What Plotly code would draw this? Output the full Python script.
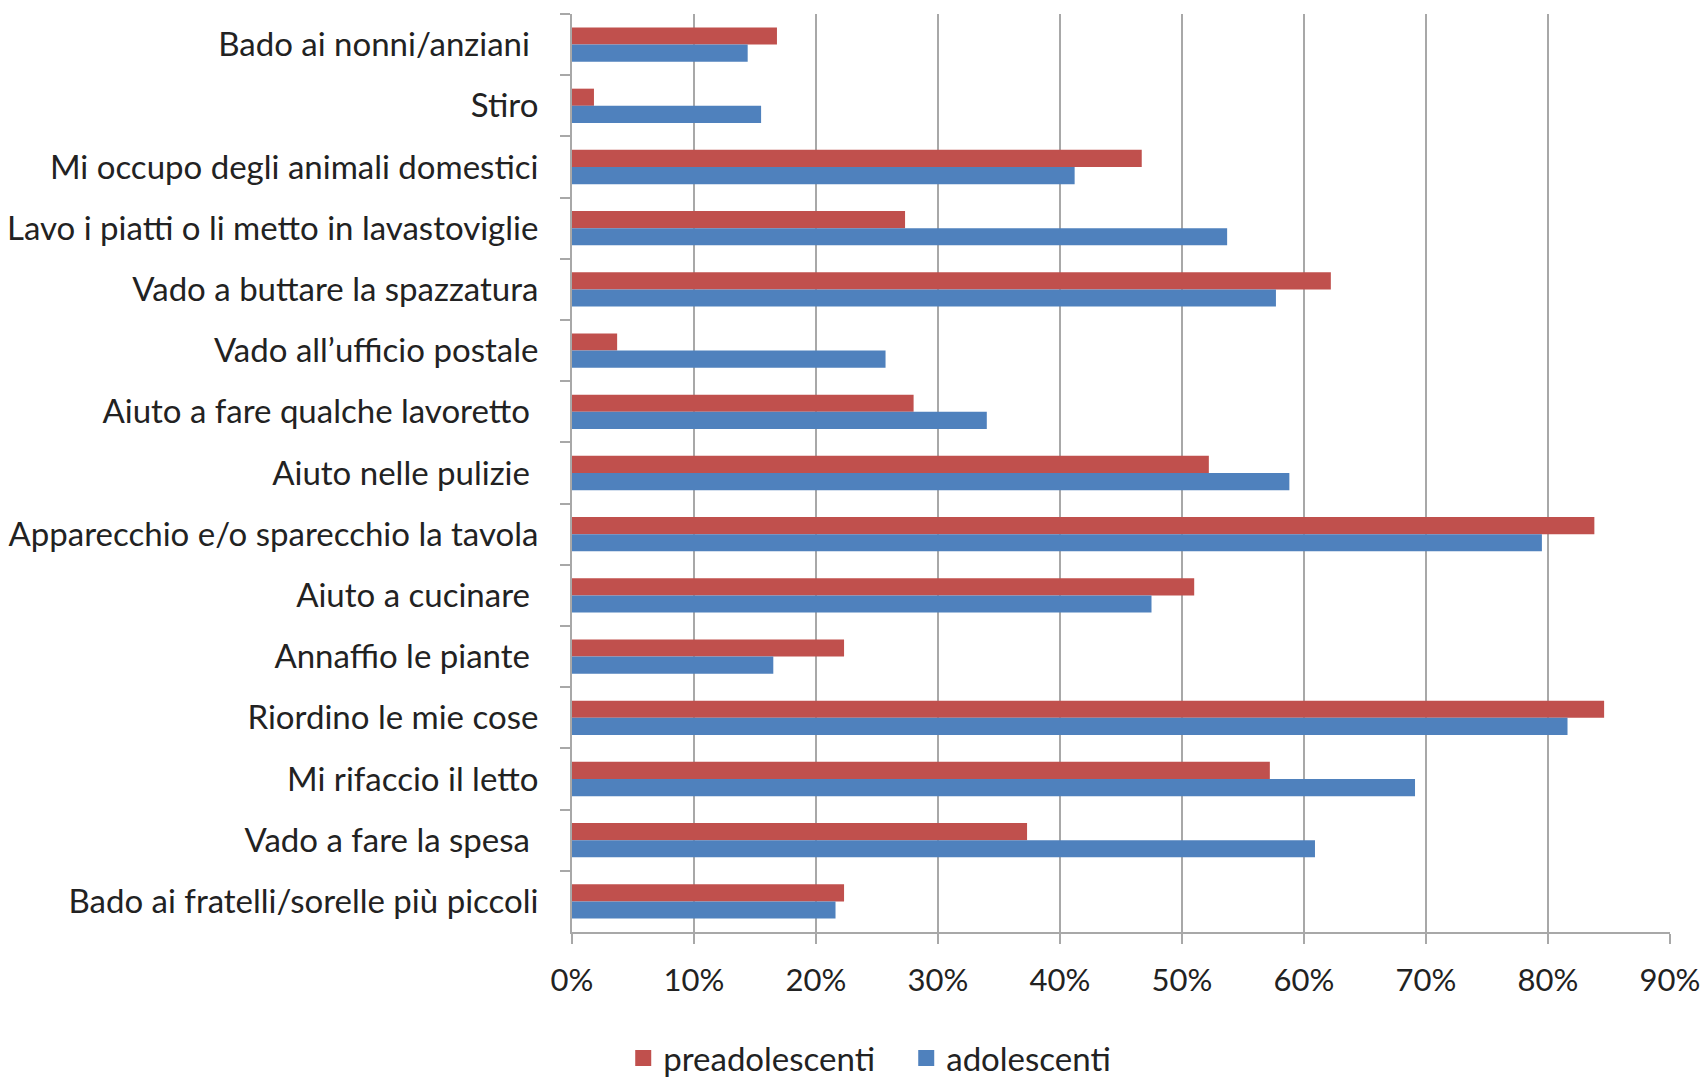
import plotly.graph_objects as go

categories = [
    "Bado ai nonni/anziani\u00a0",
    "Stiro",
    "Mi occupo degli animali domestici",
    "Lavo i piatti o li metto in lavastoviglie",
    "Vado a buttare la spazzatura",
    "Vado all\u2019ufficio postale",
    "Aiuto a fare qualche lavoretto\u00a0",
    "Aiuto nelle pulizie\u00a0",
    "Apparecchio e/o sparecchio la tavola",
    "Aiuto a cucinare\u00a0",
    "Annaffio le piante\u00a0",
    "Riordino le mie cose",
    "Mi rifaccio il letto",
    "Vado a fare la spesa\u00a0",
    "Bado ai fratelli/sorelle più piccoli",
]
preadolescenti = [0.168, 0.018, 0.467, 0.273, 0.622, 0.037, 0.280, 0.522, 0.838, 0.510, 0.223, 0.846, 0.572, 0.373, 0.223]
adolescenti = [0.144, 0.155, 0.412, 0.537, 0.577, 0.257, 0.340, 0.588, 0.795, 0.475, 0.165, 0.816, 0.691, 0.609, 0.216]
x_ticks = [0, 0.1, 0.2, 0.3, 0.4, 0.5, 0.6, 0.7, 0.8, 0.9]
series_names = ["preadolescenti", "adolescenti"]
series_colors = ["#C0504D", "#4F81BD"]

FONT = "Lato, sans-serif"
GRID = "#a8a8a8"

fig = go.Figure()
for name, vals, col in zip(series_names, [preadolescenti, adolescenti], series_colors):
    fig.add_trace(go.Bar(y=categories, x=vals, name=name, orientation="h",
                         marker=dict(color=col, line=dict(width=0)), showlegend=False))
# legend entries with larger square swatches
for name, col in zip(series_names, series_colors):
    fig.add_trace(go.Scatter(x=[None], y=[None], mode="markers", name=name,
                             marker=dict(symbol="square", size=18, color=col)))

fig.update_layout(
    width=1706, height=1077,
    barmode="group", bargap=0.44, bargroupgap=0,
    plot_bgcolor="white", paper_bgcolor="white",
    margin=dict(l=572, r=36, t=14, b=145, autoexpand=False),
    font=dict(family=FONT, size=33, color="#222222"),
    showlegend=True,
    legend=dict(orientation="h", xref="container", yref="container",
                x=0.5312, xanchor="center", y=0.0176, yanchor="middle",
                font=dict(size=33), itemwidth=30, traceorder="normal",
                entrywidth=238, entrywidthmode="pixels"),
    xaxis=dict(range=[0, 0.9], tickvals=x_ticks, tickformat=".0%",
               tickfont=dict(size=31),
               showgrid=True, gridcolor=GRID, gridwidth=2,
               showline=True, linecolor=GRID, linewidth=2,
               ticks="outside", ticklen=10, tickcolor=GRID, tickwidth=2,
               zeroline=False, ticklabelstandoff=10, ticklabeloverflow="allow"),
    yaxis=dict(autorange="reversed", showline=True, linecolor=GRID, linewidth=2,
               ticks="outside", ticklen=10, tickcolor=GRID, tickwidth=2,
               tickson="boundaries", showgrid=False, ticklabelstandoff=25),
)

fig.write_html(
    "out.html",
    config={"displayModeBar": False},
    post_script=(
        "document.documentElement.style.margin='0';"
        "document.body.style.margin='0';"
        "document.body.style.overflow='hidden';"
        "document.documentElement.style.overflow='hidden';"
    ),
)
